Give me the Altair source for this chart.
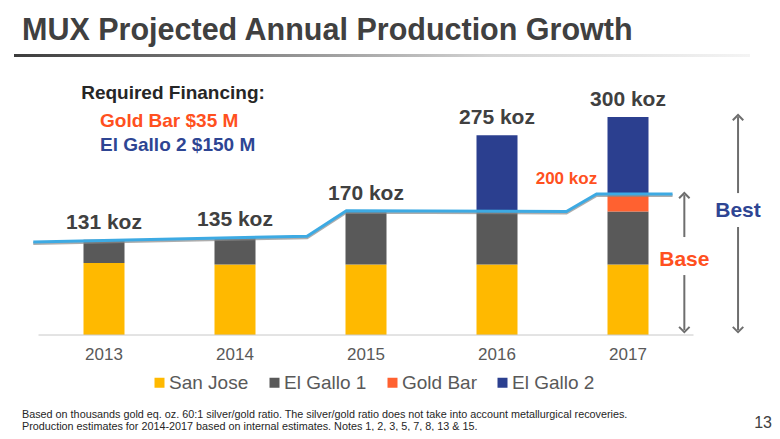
import altair as alt
import pandas as pd

# ---------------- data ----------------
years = [2013, 2014, 2015, 2016, 2017]
series = ["San Jose", "El Gallo 1", "Gold Bar", "El Gallo 2"]
colors = ["#FFB900", "#595959", "#FF6130", "#2B3F8F"]
san_jose = [99, 97, 97, 97, 97]
el_gallo_1 = [32, 38, 73, 73, 73]
gold_bar = [0, 0, 0, 0, 25]
el_gallo_2 = [0, 0, 0, 105, 105]

# base-case trend line (x in years, y in koz)
trend_x = [2012.46, 2014.55, 2014.85, 2016.53, 2016.76, 2017.34]
trend_y = [128, 136, 171, 170, 194, 194]

# range arrows (x in years, y in koz)
arrow_names = ["Base", "Best"]
arrow_x = [2017.43, 2017.84]
arrow_top = [192.6, 299.9]
arrow_gap_top = [134.8, 195.3]
arrow_gap_bottom = [82.5, 148.6]
arrow_bottom = [6.9, 6.9]
arrow_label_y = [103, 171]
arrow_colors = ["#FF5020", "#2E4593"]

title = "MUX Projected Annual Production Growth"
footnote = [
    "Based on thousands gold eq. oz. 60:1 silver/gold ratio. The silver/gold ratio does not take into account metallurgical recoveries.",
    "Production estimates for 2014-2017 based on internal estimates. Notes 1, 2, 3, 5, 7, 8, 13 & 15.",
]

FONT = "Liberation Sans"

# ---------------- tables ----------------
values = [san_jose, el_gallo_1, gold_bar, el_gallo_2]
rows = []
for si, (name, vals) in enumerate(zip(series, values)):
    for y, v in zip(years, vals):
        if v > 0:
            rows.append({"year": y, "series": name, "value": v, "order": si})
bars_df = pd.DataFrame(rows)
totals = [sum(v[i] for v in values) for i in range(len(years))]
totals_df = pd.DataFrame({"year": years, "total": totals,
                          "label": [f"{t} koz" for t in totals]})
trend_df = pd.DataFrame({"x": trend_x, "y": trend_y})

seg_rows = []
for i in range(2):
    seg_rows.append({"x": arrow_x[i], "y1": arrow_top[i], "y2": arrow_gap_top[i]})
    seg_rows.append({"x": arrow_x[i], "y1": arrow_gap_bottom[i], "y2": arrow_bottom[i]})
seg_df = pd.DataFrame(seg_rows)
heads_up = pd.DataFrame({"x": arrow_x, "y": arrow_top})
heads_down = pd.DataFrame({"x": arrow_x, "y": arrow_bottom})
arrow_lab_df = pd.DataFrame({"x": arrow_x, "y": arrow_label_y, "name": arrow_names})

xs = alt.Scale(domain=[2013, 2017], range=[96, 620], nice=False, zero=False, padding=0)
ys = alt.Scale(domain=[0, 300], range=[327, 109], nice=False, zero=False, padding=0)
one = pd.DataFrame({"a": [0]})

# ---------------- layers ----------------
bars = alt.Chart(bars_df).mark_bar(size=41).encode(
    x=alt.X("year:Q", scale=xs, axis=None),
    y=alt.Y("value:Q", stack="zero", scale=ys, axis=None),
    color=alt.Color(
        "series:N",
        scale=alt.Scale(domain=series, range=colors),
        legend=alt.Legend(
            orient="none", legendX=142, legendY=365, direction="horizontal",
            title=None, symbolType="square", symbolSize=100, symbolStrokeWidth=0,
            labelFontSize=19, labelColor="#595959", labelFont=FONT,
            columnPadding=16, labelOffset=0, padding=0,
        ),
    ),
    order=alt.Order("order:Q"),
)

baseline = alt.Chart(pd.DataFrame({"x": [2012.5], "x2": [2017.5], "y": [0]})).mark_rule(
    color="#C8C8C8", strokeWidth=1
).encode(x=alt.X("x:Q", scale=xs, axis=None), x2="x2:Q",
         y=alt.Y("y:Q", scale=ys, axis=None))

year_labels = alt.Chart(pd.DataFrame({"year": years})).mark_text(
    font=FONT, fontSize=17, color="#595959", baseline="middle"
).encode(x=alt.X("year:Q", scale=xs, axis=None), y=alt.value(347),
         text=alt.Text("year:N"))

trend_shadow = alt.Chart(trend_df).mark_line(
    color="#8A8A8A", strokeWidth=3, yOffset=1.5, opacity=0.7
).encode(x=alt.X("x:Q", scale=xs, axis=None), y=alt.Y("y:Q", scale=ys, axis=None))
trend = alt.Chart(trend_df).mark_line(color="#3DAAE3", strokeWidth=3).encode(
    x=alt.X("x:Q", scale=xs, axis=None), y=alt.Y("y:Q", scale=ys, axis=None))

total_labels = alt.Chart(totals_df).mark_text(
    font=FONT, fontSize=21, fontWeight="bold", color="#404040", baseline="middle", dy=-17
).encode(x=alt.X("year:Q", scale=xs, axis=None),
         y=alt.Y("total:Q", scale=ys, axis=None), text="label:N")

base_label = alt.Chart(pd.DataFrame({"x": [2016.53], "y": [214.7]})).mark_text(
    text="200 koz", font=FONT, fontSize=17, fontWeight="bold", color="#FF5020",
    baseline="middle"
).encode(x=alt.X("x:Q", scale=xs, axis=None), y=alt.Y("y:Q", scale=ys, axis=None))

segs = alt.Chart(seg_df).mark_rule(color="#6E6E6E", strokeWidth=2).encode(
    x=alt.X("x:Q", scale=xs, axis=None), y=alt.Y("y1:Q", scale=ys, axis=None), y2="y2:Q")
up = alt.Chart(heads_up).mark_point(
    shape="M-1,0.6L0,-0.4L1,0.6", size=110, filled=False, color="#6E6E6E", strokeWidth=2, opacity=1
).encode(x=alt.X("x:Q", scale=xs, axis=None), y=alt.Y("y:Q", scale=ys, axis=None))
down = alt.Chart(heads_down).mark_point(
    shape="M-1,-0.6L0,0.4L1,-0.6", size=110, filled=False, color="#6E6E6E", strokeWidth=2, opacity=1
).encode(x=alt.X("x:Q", scale=xs, axis=None), y=alt.Y("y:Q", scale=ys, axis=None))
arrow_labels = alt.Chart(arrow_lab_df).mark_text(
    font=FONT, fontSize=21, fontWeight="bold", baseline="middle"
).encode(x=alt.X("x:Q", scale=xs, axis=None), y=alt.Y("y:Q", scale=ys, axis=None),
         text="name:N",
         color=alt.Color("name:N", scale=alt.Scale(domain=arrow_names, range=arrow_colors), legend=None))

def txt(text, x, y, size, color, weight="normal", align="left", font=FONT, baseline="middle"):
    return alt.Chart(one).mark_text(
        text=text, font=font, fontSize=size, fontWeight=weight, color=color,
        align=align, baseline=baseline
    ).encode(x=alt.value(x), y=alt.value(y))

title_t = txt(title, 14, 32, 30.5, "#404040", "bold", baseline="alphabetic")
underline = alt.Chart(one).mark_rect(
    color=alt.LinearGradient(
        gradient="linear", x1=0, x2=1, y1=0, y2=0,
        stops=[alt.GradientStop(color="#3C3C3C", offset=0),
               alt.GradientStop(color="#8C8C8C", offset=0.35),
               alt.GradientStop(color="#D4D4D4", offset=0.65),
               alt.GradientStop(color="#F4F4F4", offset=1)])
).encode(x=alt.value(6), x2=alt.value(742), y=alt.value(46), y2=alt.value(49))

fin1 = txt("Required Financing:", 165, 85, 19, "#262626", "bold", align="center")
fin2 = txt("Gold Bar $35 M", 92, 113, 19, "#FF5020", "bold")
fin3 = txt("El Gallo 2 $150 M", 92, 137, 19, "#2E4593", "bold")
foot1 = txt(footnote[0], 14, 407, 10.8, "#262626")
foot2 = txt(footnote[1], 14, 419, 10.8, "#262626")
page = txt("13", 764, 420, 16, "#404040", align="right", baseline="alphabetic")

chart = alt.layer(
    bars, baseline, year_labels, trend_shadow, trend, total_labels, base_label,
    segs, up, down, arrow_labels,
    title_t, underline, fin1, fin2, fin3, foot1, foot2, page,
).resolve_scale(color="independent").properties(
    width=764, height=423, autosize=alt.AutoSizeParams(type="none"), padding=0,
    background="white",
).configure_view(stroke=None)

chart.save("out.html", embed_options={"renderer": "svg", "actions": False})
